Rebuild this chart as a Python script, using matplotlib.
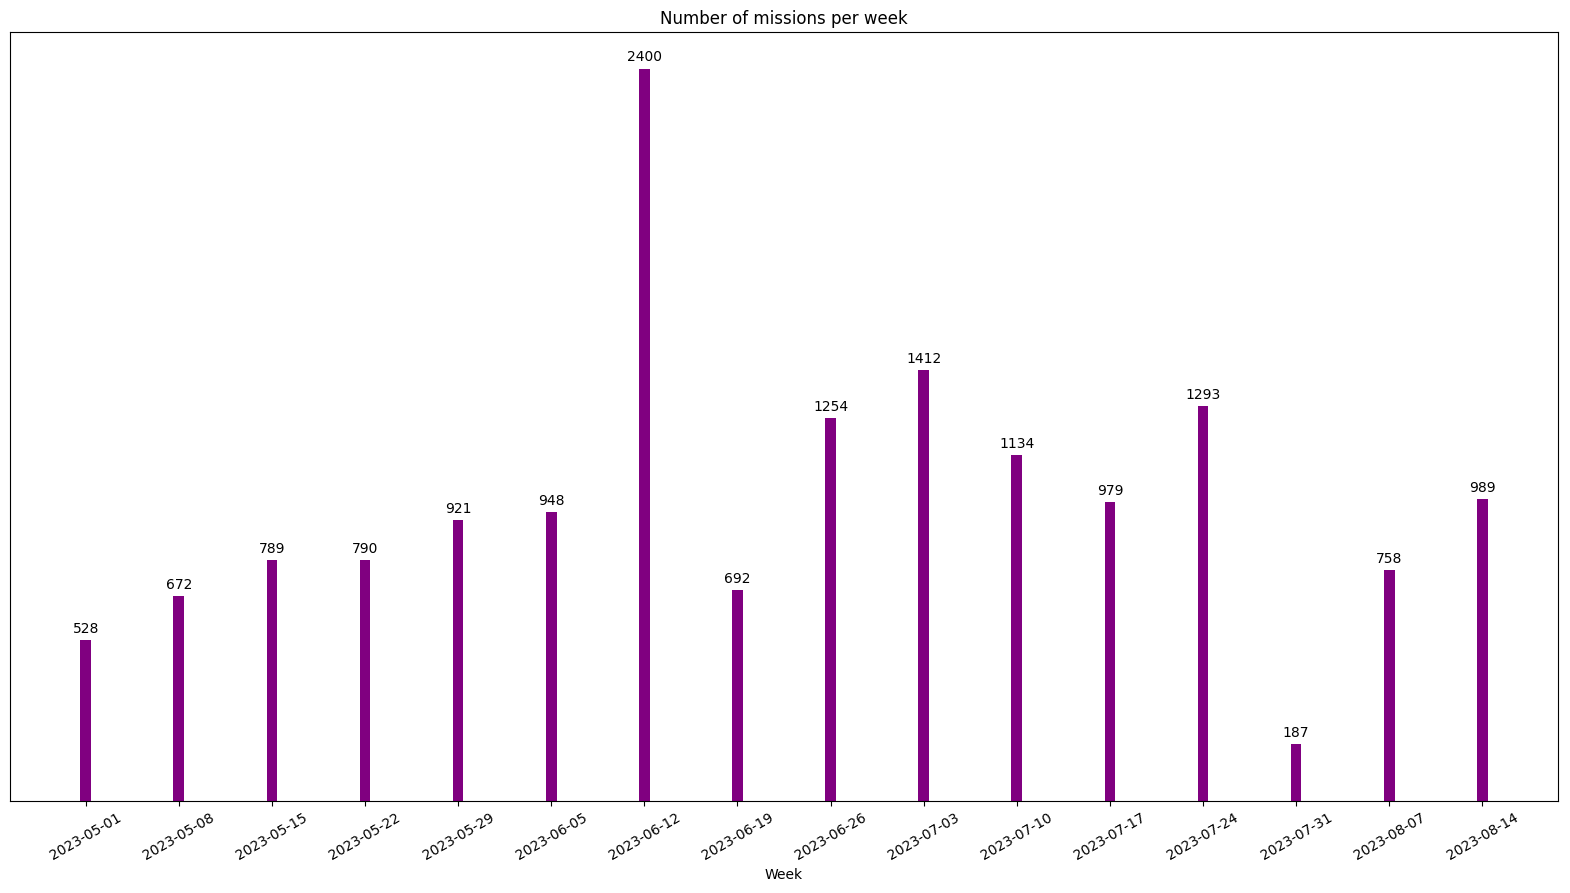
import matplotlib
matplotlib.use('AGG')
import matplotlib.pyplot as plt
import pandas as pd

weeks = ['2023-05-01', '2023-05-08', '2023-05-15', '2023-05-22', '2023-05-29',
         '2023-06-05', '2023-06-12', '2023-06-19', '2023-06-26', '2023-07-03',
         '2023-07-10', '2023-07-17', '2023-07-24', '2023-07-31', '2023-08-07',
         '2023-08-14']
missions = [528, 672, 789, 790, 921, 948, 2400, 692, 1254, 1412, 1134, 979,
            1293, 187, 758, 989]

dates = pd.to_datetime(weeks)

fig, ax = plt.subplots(figsize=(15.7, 8.93), dpi=100)
bars = ax.bar(dates, missions, width=0.8, color='purple')
ax.bar_label(bars, padding=3)

ax.set_title('Number of missions per week')
ax.set_xlabel('Week')
ax.set_xticks(dates)
ax.set_xticklabels(weeks, rotation=30)
ax.set_yticks([])

fig.subplots_adjust(left=10 / 1570, right=1558 / 1570,
                    top=1 - 32 / 893, bottom=1 - 801 / 893)
fig.savefig('out.png', dpi=100)
plt.close(fig)
